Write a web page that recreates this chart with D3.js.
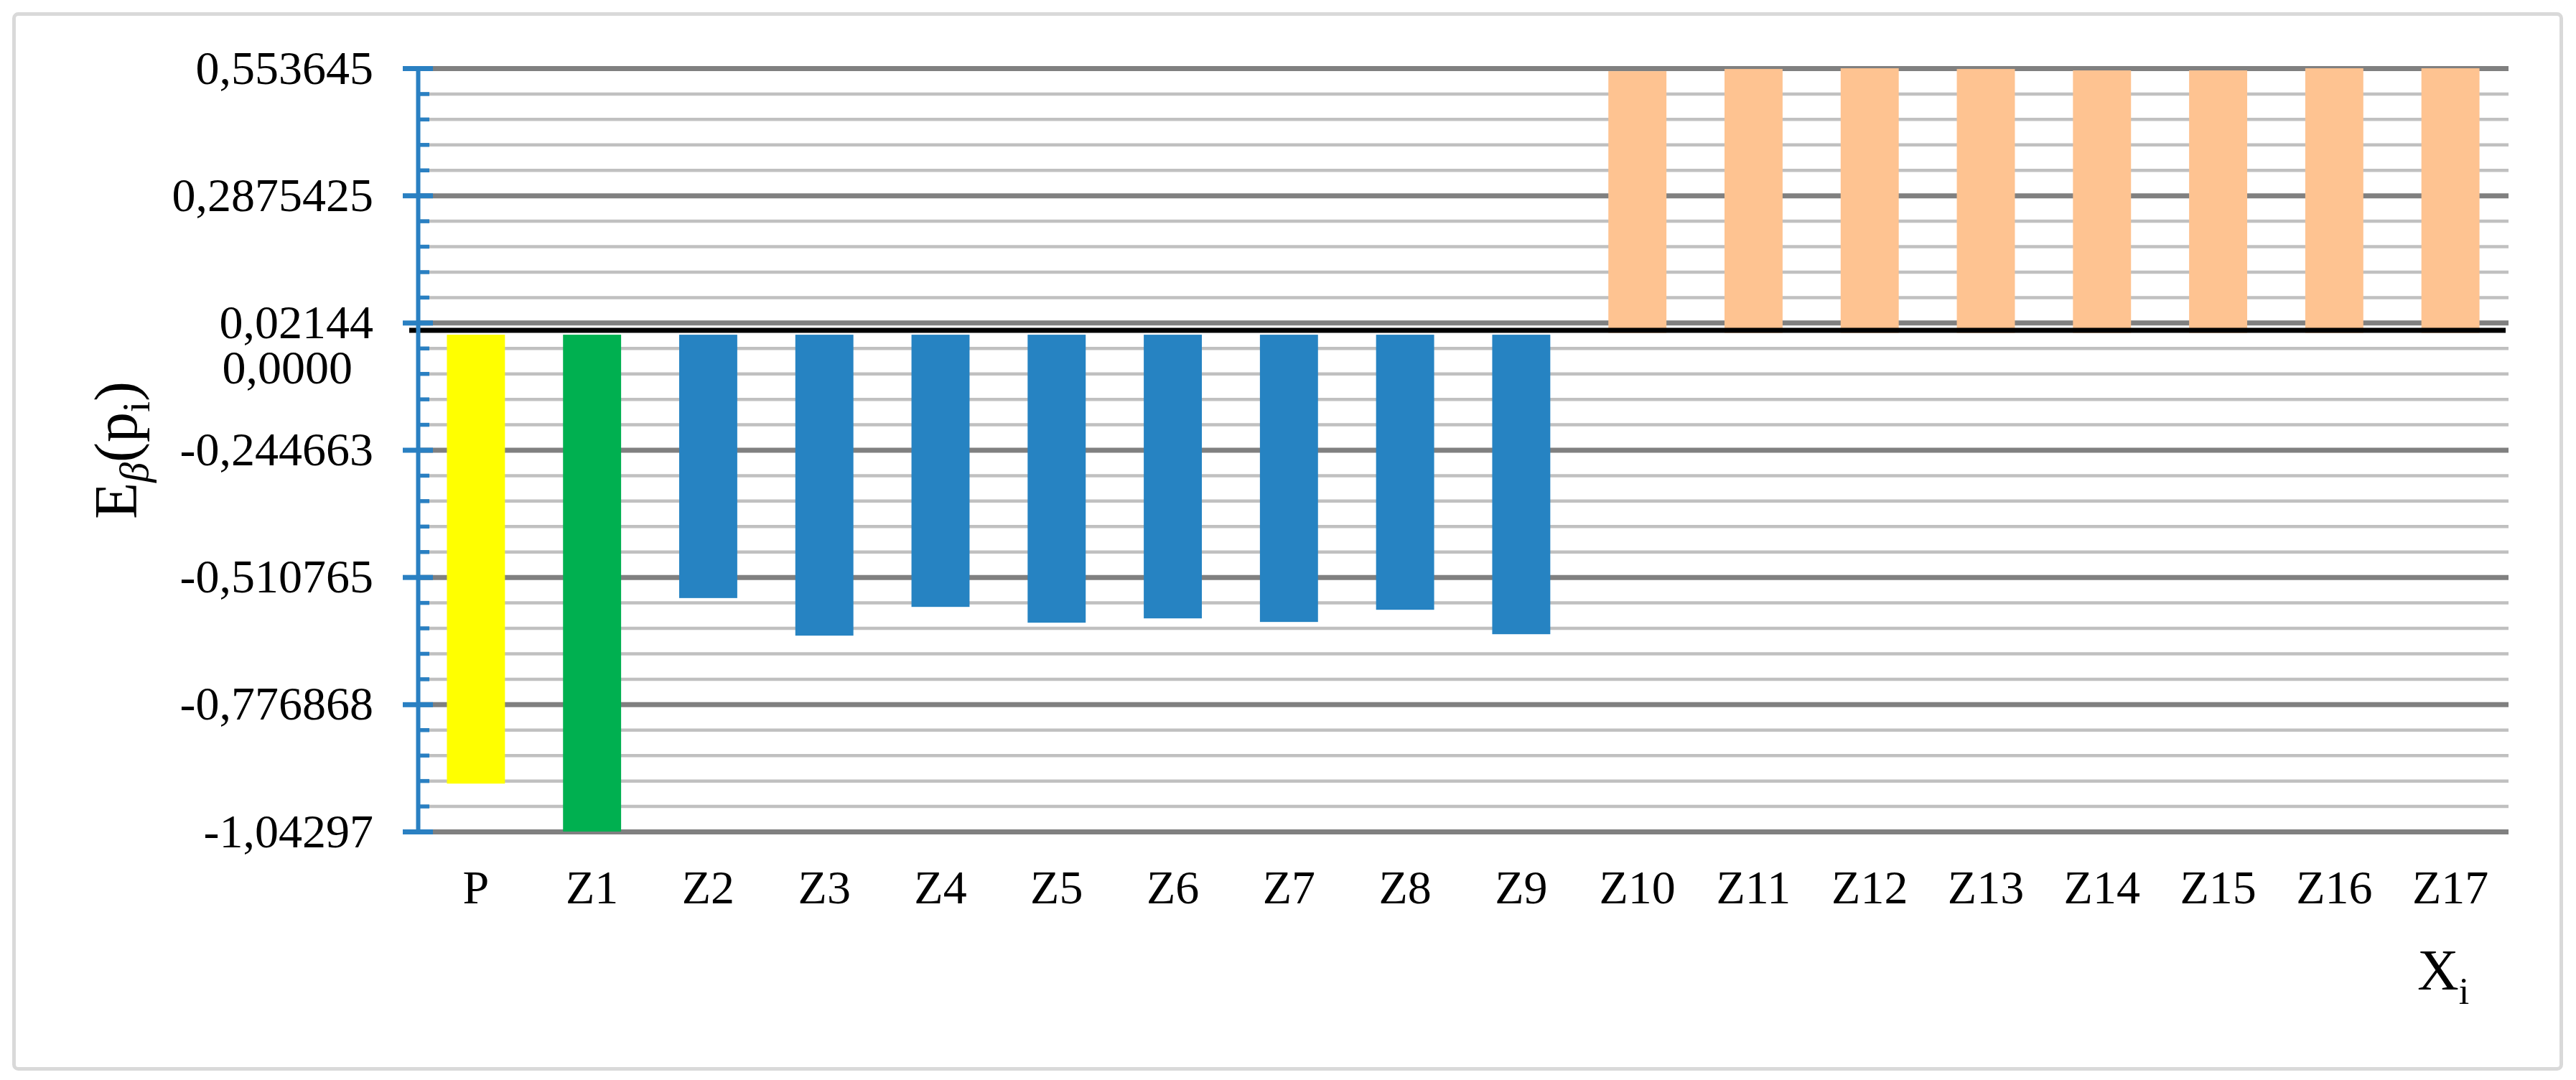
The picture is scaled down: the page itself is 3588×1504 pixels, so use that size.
<!DOCTYPE html>
<html>
<head>
<meta charset="utf-8">
<script src="https://cdn.jsdelivr.net/npm/d3@7"></script>
<style>
  body { margin: 0; background: #fff; }
  svg text { font-family: "Liberation Serif", "Times New Roman", serif; fill: #000; }
</style>
</head>
<body>
<svg id="chart"></svg>
<script>
// values
var categories = ["P", "Z1", "Z2", "Z3", "Z4", "Z5", "Z6", "Z7", "Z8", "Z9",
                  "Z10", "Z11", "Z12", "Z13", "Z14", "Z15", "Z16", "Z17"];
var values = [-0.9427, -1.04297, -0.5546, -0.6332, -0.5731, -0.6061, -0.5971, -0.6046, -0.5791, -0.6302,
              0.5475, 0.5520, 0.5535, 0.5520, 0.5490, 0.5490, 0.5535, 0.5535];
var barColors = ["#ffff00", "#00b050",
                 "#2683c2", "#2683c2", "#2683c2", "#2683c2", "#2683c2", "#2683c2", "#2683c2", "#2683c2",
                 "#fec391", "#fec391", "#fec391", "#fec391", "#fec391", "#fec391", "#fec391", "#fec391"];
var majorTicks = [0.553645, 0.2875425, 0.02144, -0.244663, -0.510765, -0.776868, -1.04297];
var tickLabels = ["0,553645", "0,2875425", "0,02144", "-0,244663", "-0,510765", "-0,776868", "-1,04297"];

var width = 3588, height = 1504;
// note: "top" is taken by window.top, so use plot* names
var plotLeft = 582, plotRight = 3494, plotTop = 95, plotBottom = 1158;

var svg = d3.select("#chart")
    .attr("width", width)
    .attr("height", height);

// outer frame
svg.append("rect")
    .attr("x", 19.5).attr("y", 19.5)
    .attr("width", 3548).attr("height", 1469)
    .attr("rx", 6)
    .attr("fill", "#fff")
    .attr("stroke", "#d9d9d9")
    .attr("stroke-width", 5);

var y = d3.scaleLinear()
    .domain([d3.min(majorTicks), d3.max(majorTicks)])
    .range([plotBottom, plotTop]);

var x = d3.scaleBand()
    .domain(categories)
    .range([plotLeft, plotRight])
    .paddingInner(0.5)
    .paddingOuter(0.25);

// 4 minor lines between each pair of majors
var step = majorTicks[0] - majorTicks[1];
var minorTicks = [];
majorTicks.slice(1).forEach(function (m) {
    for (var k = 1; k < 5; k++) minorTicks.push(m + k * step / 5);
});

// gridlines
var minorGrid = svg.append("g")
    .attr("transform", "translate(" + plotLeft + ",0)")
    .call(d3.axisRight(y).tickValues(minorTicks).tickSize(plotRight - plotLeft).tickFormat(""));
minorGrid.select(".domain").remove();
minorGrid.selectAll("line").attr("stroke", "#c0c0c0").attr("stroke-width", 4.5);

var majorGrid = svg.append("g")
    .attr("transform", "translate(" + plotLeft + ",0)")
    .call(d3.axisRight(y).tickValues(majorTicks).tickSize(plotRight - plotLeft).tickFormat(""));
majorGrid.select(".domain").remove();
majorGrid.selectAll("line").attr("stroke", "#808080").attr("stroke-width", 7);

// bars
svg.append("g")
    .selectAll("rect")
    .data(values)
    .enter().append("rect")
    .attr("x", function (d, i) { return x(categories[i]); })
    .attr("width", x.bandwidth())
    .attr("y", function (d) { return d >= 0 ? y(d) : y(0) + 2.5; })
    .attr("height", function (d) { return d >= 0 ? y(0) - y(d) : y(d) - y(0) - 2.5; })
    .attr("fill", function (d, i) { return barColors[i]; });

// zero line
svg.append("line")
    .attr("x1", plotLeft - 12).attr("x2", plotRight - 4)
    .attr("y1", y(0) - 3.5).attr("y2", y(0) - 3.5)
    .attr("stroke", "#000")
    .attr("stroke-width", 7);

// y axis (blue), labels on the left
var axisColor = "#2a80c2";
var yAxis = svg.append("g")
    .attr("transform", "translate(" + plotLeft + ",0)")
    .call(d3.axisLeft(y).tickValues(majorTicks).tickSize(21).tickSizeOuter(0).tickPadding(41)
        .tickFormat(function (d, i) { return tickLabels[i]; }));
yAxis.select(".domain").attr("stroke", axisColor).attr("stroke-width", 6);
yAxis.selectAll("line").attr("stroke", axisColor).attr("stroke-width", 7);
yAxis.selectAll("text").attr("font-size", 66).attr("font-family", "Liberation Serif");

var inMajor = svg.append("g")
    .attr("transform", "translate(" + plotLeft + ",0)")
    .call(d3.axisRight(y).tickValues(majorTicks).tickSize(21).tickFormat(""));
inMajor.select(".domain").remove();
inMajor.selectAll("line").attr("stroke", axisColor).attr("stroke-width", 7);

var inMinor = svg.append("g")
    .attr("transform", "translate(" + plotLeft + ",0)")
    .call(d3.axisRight(y).tickValues(minorTicks).tickSize(16).tickFormat(""));
inMinor.select(".domain").remove();
inMinor.selectAll("line").attr("stroke", axisColor).attr("stroke-width", 5.5);

// extra zero label under the 0,02144 one
svg.append("text")
    .attr("x", 491)
    .attr("y", y(0) + 70)
    .attr("text-anchor", "end")
    .attr("font-size", 66)
    .text("0,0000");

// x labels
var xAxis = svg.append("g")
    .attr("transform", "translate(0," + plotBottom + ")")
    .call(d3.axisBottom(x).tickSize(0).tickPadding(53));
xAxis.select(".domain").remove();
xAxis.selectAll("text").attr("font-size", 66).attr("font-family", "Liberation Serif");

// y title: E_beta(p_i)
var yTitle = svg.append("text")
    .attr("transform", "translate(190,627) rotate(-90)")
    .attr("text-anchor", "middle")
    .attr("font-size", 84);
yTitle.append("tspan").text("E");
yTitle.append("tspan").attr("font-size", 56).attr("font-style", "italic").attr("dy", 16).text("β");
yTitle.append("tspan").attr("dy", -16).text("(p");
yTitle.append("tspan").attr("font-size", 54).attr("dy", 18).text("i");
yTitle.append("tspan").attr("dy", -18).text(")");

// x title: X_i
var xTitle = svg.append("text")
    .attr("x", 3367)
    .attr("y", 1378)
    .attr("font-size", 80);
xTitle.append("tspan").text("X");
xTitle.append("tspan").attr("font-size", 52).attr("dy", 20).text("i");
</script>
</body>
</html>
